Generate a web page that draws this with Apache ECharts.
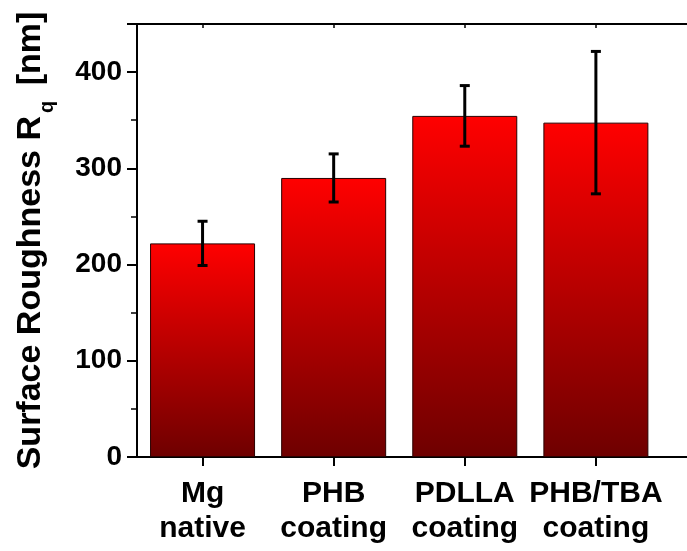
<!DOCTYPE html>
<html>
<head>
<meta charset="utf-8">
<script src="https://cdn.jsdelivr.net/npm/echarts@6/dist/echarts.min.js"></script>
<style>
    html, body { margin: 0; padding: 0; background: #fff; }
    #chart { width: 687px; height: 551px; }
</style>
</head>
<body>
<div id="chart"></div>
<script>
// 表面粗糙度 Rq
var categories = ['Mg\nnative', 'PHB\ncoating', 'PDLLA\ncoating', 'PHB/TBA\ncoating'];
var roughness = [222, 290, 354.5, 347.5];
var roughnessErr = [23, 25, 31.5, 74];
var yTicks = [0, 100, 200, 300, 400];

var font = '"Liberation Sans", Arial, sans-serif';
var catPos = categories.map(function (c, i) { return i; });

var barData = roughness.map(function (v, i) { return [i, v]; });
var errData = roughness.map(function (v, i) {
    return [i, v - roughnessErr[i], v + roughnessErr[i]];
});

var chart = echarts.init(document.getElementById('chart'));

var option = {
    animation: false,
    grid: {
        left: 137,
        top: 24,
        bottom: 94,
        right: -40,
        containLabel: false,
        outerBoundsMode: 'none'
    },
    xAxis: [{
        type: 'value',
        min: -0.5,
        max: 4,
        splitLine: { show: false },
        axisLine: { show: true, onZero: false, lineStyle: { color: '#000', width: 2 } },
        axisTick: { show: true, customValues: catPos, length: 9, lineStyle: { color: '#000', width: 2 } },
        axisLabel: {
            customValues: catPos,
            formatter: function (v) { return categories[Math.round(v)]; },
            margin: 19,
            color: '#000',
            fontFamily: font,
            fontWeight: 'bold',
            fontSize: 30,
            lineHeight: 35
        }
    }, {
        type: 'value',
        position: 'top',
        min: -0.5,
        max: 4,
        splitLine: { show: false },
        axisLine: { show: true, onZero: false, lineStyle: { color: '#000', width: 2 } },
        axisTick: { show: true, inside: true, customValues: catPos, length: 4, lineStyle: { color: '#000', width: 1.5 } },
        axisLabel: { show: false }
    }],
    yAxis: {
        type: 'value',
        min: 0,
        max: 450,
        interval: 100,
        name: '{a|Surface Roughness R}{q|q}{a| [nm]}',
        nameLocation: 'middle',
        nameGap: 80,
        nameTextStyle: {
            rich: {
                a: { fontFamily: font, fontWeight: 'bold', fontSize: 34, color: '#000', lineHeight: 52 },
                q: { fontFamily: font, fontWeight: 'bold', fontSize: 20, color: '#000', lineHeight: 20, verticalAlign: 'bottom', padding: [0, 6, 0, 3] }
            }
        },
        splitLine: { show: false },
        axisLine: { show: true, onZero: false, lineStyle: { color: '#000', width: 2 } },
        axisTick: { show: true, length: 10, lineStyle: { color: '#000', width: 2 } },
        minorTick: { show: true, splitNumber: 2, length: 6, lineStyle: { color: '#000', width: 1.5 } },
        axisLabel: {
            customValues: yTicks,
            margin: 15,
            color: '#000',
            fontFamily: font,
            fontWeight: 'bold',
            fontSize: 28
        }
    },
    series: [{
        type: 'bar',
        data: barData,
        barWidth: 105,
        itemStyle: {
            color: new echarts.graphic.LinearGradient(0, 0, 0, 1, [
                { offset: 0, color: '#ff0000' },
                { offset: 1, color: '#6e0000' }
            ]),
            borderColor: '#2a0000',
            borderWidth: 1
        }
    }, {
        type: 'custom',
        data: errData,
        z: 10,
        renderItem: function (params, api) {
            var x = api.value(0);
            var lo = api.coord([x, api.value(1)]);
            var hi = api.coord([x, api.value(2)]);
            var hw = 5;
            var style = { stroke: '#000', lineWidth: 3 };
            return {
                type: 'group',
                children: [
                    { type: 'line', shape: { x1: hi[0], y1: hi[1], x2: lo[0], y2: lo[1] }, style: style },
                    { type: 'line', shape: { x1: hi[0] - hw, y1: hi[1], x2: hi[0] + hw, y2: hi[1] }, style: style },
                    { type: 'line', shape: { x1: lo[0] - hw, y1: lo[1], x2: lo[0] + hw, y2: lo[1] }, style: style }
                ]
            };
        }
    }]
};

chart.setOption(option);
</script>
</body>
</html>
